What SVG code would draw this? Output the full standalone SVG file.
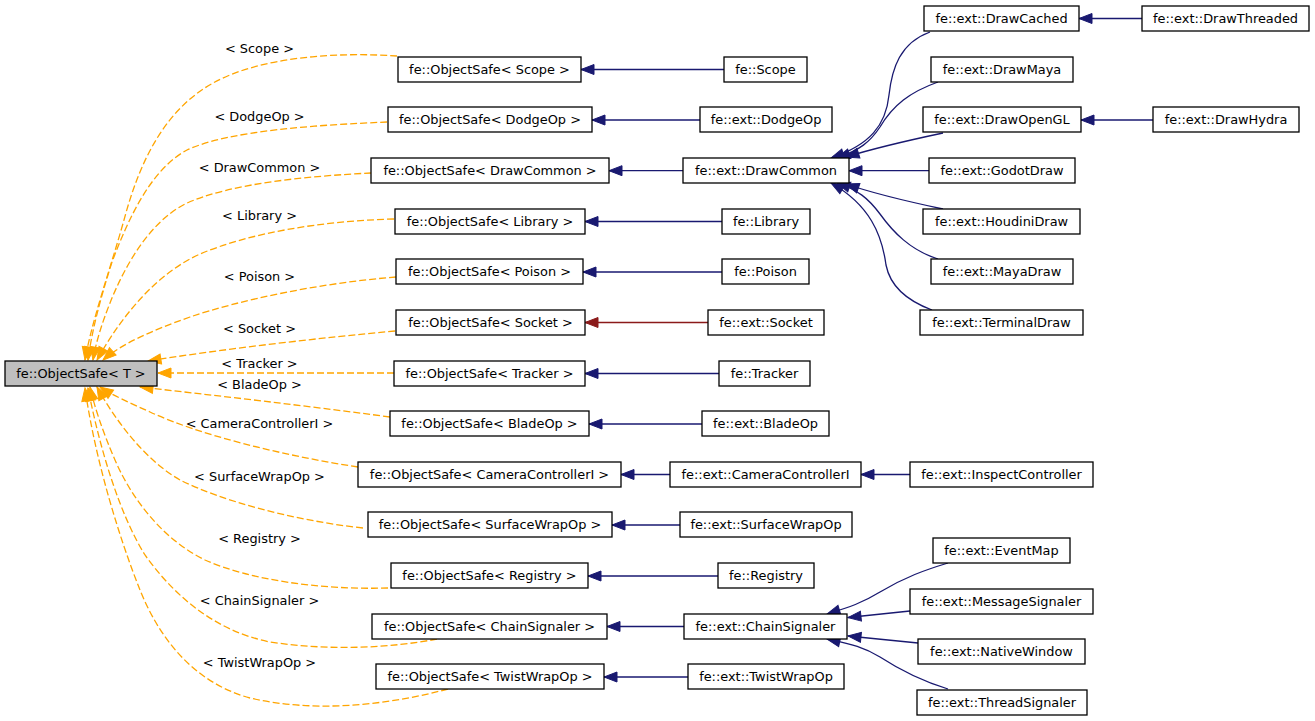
<svg xmlns="http://www.w3.org/2000/svg" width="1315" height="721" viewBox="0 0 1315 721">
<style>
text{font-family:"DejaVu Sans","Liberation Sans",sans-serif;font-size:12.9px;text-anchor:middle;fill:#000}
.n rect{fill:#fff;stroke:#000;stroke-width:1.3}
#base rect{fill:#bfbfbf}
.o{fill:none;stroke:#ffa500;stroke-width:1.3;stroke-dasharray:7,3}
.b{fill:none;stroke:#191970;stroke-width:1.3}
.r{fill:none;stroke:#8b1a1a;stroke-width:1.3}
</style>
<defs>
<marker id="ao" markerUnits="userSpaceOnUse" viewBox="0 0 13 10" markerWidth="13" markerHeight="10" refX="13" refY="5" orient="auto" overflow="visible"><path d="M0,0L13,5L0,10Z" fill="#ffa500" stroke="#ffa500" stroke-width="1"/></marker>
<marker id="ab" markerUnits="userSpaceOnUse" viewBox="0 0 13 10" markerWidth="13" markerHeight="10" refX="13" refY="5" orient="auto" overflow="visible"><path d="M0,0L13,5L0,10Z" fill="#191970" stroke="#191970" stroke-width="1"/></marker>
<marker id="ar" markerUnits="userSpaceOnUse" viewBox="0 0 13 10" markerWidth="13" markerHeight="10" refX="13" refY="5" orient="auto" overflow="visible"><path d="M0,0L13,5L0,10Z" fill="#8b1a1a" stroke="#8b1a1a" stroke-width="1"/></marker>
</defs>
<rect width="1315" height="721" fill="#fff"/>
<g id="connectors">
<g marker-end="url(#ao)">
<path class="o" d="M397,56 C340,52 262,56 213,83 C165,110 140,160 124,220 C110,270 92,320 85,360"/>
<path class="o" d="M387,122 C320,125 230,130 187,150 C150,170 128,220 112,262 C100,300 92,330 88,360"/>
<path class="o" d="M371,173 C310,176 230,183 185,204 C150,222 125,265 110,303 C102,323 96,342 93,360"/>
<path class="o" d="M394,219 C320,221 250,233 200,254 C160,272 125,310 97,360"/>
<path class="o" d="M396,277 C320,283 240,300 190,317 C150,331 120,345 103,360"/>
<path class="o" d="M395,331 C320,338 230,348 148,361"/>
<path class="o" d="M394,373 L158,373"/>
<path class="o" d="M390,417 C300,405 220,396 140,387"/>
<path class="o" d="M358,467 C280,455 200,435 150,412 C130,403 112,395 100,387"/>
<path class="o" d="M363,528 C290,520 220,500 180,480 C145,460 115,420 97,387"/>
<path class="o" d="M388,588 C320,590 250,580 205,560 C160,538 130,495 115,460 C102,430 94,405 90,387"/>
<path class="o" d="M437,639 C390,648 330,651 270,642 C210,630 170,590 145,555 C120,515 100,450 88,388"/>
<path class="o" d="M448,689 C380,707 310,712 250,698 C195,683 160,640 140,590 C120,540 95,460 85,388"/>
</g>
<text x="259.5" y="52.5">&lt; Scope &gt;</text>
<text x="259.5" y="120.5">&lt; DodgeOp &gt;</text>
<text x="259.5" y="172">&lt; DrawCommon &gt;</text>
<text x="259.5" y="220">&lt; Library &gt;</text>
<text x="259.5" y="281">&lt; Poison &gt;</text>
<text x="259.5" y="333">&lt; Socket &gt;</text>
<text x="259.5" y="368">&lt; Tracker &gt;</text>
<text x="259.5" y="389">&lt; BladeOp &gt;</text>
<text x="259.5" y="428">&lt; CameraControllerI &gt;</text>
<text x="259.5" y="481">&lt; SurfaceWrapOp &gt;</text>
<text x="259.5" y="543">&lt; Registry &gt;</text>
<text x="259.5" y="605">&lt; ChainSignaler &gt;</text>
<text x="259.5" y="667">&lt; TwistWrapOp &gt;</text>
<g marker-end="url(#ab)">
<path class="b" d="M724,69.5 L581,69.5"/>
<path class="b" d="M700,120 L592,120"/>
<path class="b" d="M683,170.7 L609,170.7"/>
<path class="b" d="M722,221.5 L585,221.5"/>
<path class="b" d="M722,272 L583,272"/>
<path class="b" d="M719,373.5 L585,373.5"/>
<path class="b" d="M702,424 L589,424"/>
<path class="b" d="M670,474.5 L621,474.5"/>
<path class="b" d="M910,474.5 L861,474.5"/>
<path class="b" d="M680,525 L612,525"/>
<path class="b" d="M718,576 L588,576"/>
<path class="b" d="M684,626.5 L607,626.5"/>
<path class="b" d="M688,677 L604,677"/>
<path class="b" d="M1142,18.5 L1079,18.5"/>
<path class="b" d="M1153,120 L1081,120"/>
<path class="b" d="M930,32 C900,43 892,68 889,95 C886,125 870,145 831,158"/>
<path class="b" d="M938,82 C910,92 893,105 880,127 C870,142 860,150 837,158"/>
<path class="b" d="M943,133 C910,140 875,148 846,157"/>
<path class="b" d="M929,170.7 L849,170.7"/>
<path class="b" d="M943,209 C910,202 875,194 846,184"/>
<path class="b" d="M938,259 C910,250 893,232 880,214 C868,198 858,190 837,183"/>
<path class="b" d="M932,310 C905,300 890,285 886,265 C882,235 870,205 831,183"/>
<path class="b" d="M948,563 C925,570 905,577 880,592 C862,603 850,607 827,614"/>
<path class="b" d="M910,611 L848,617.5"/>
<path class="b" d="M918,643 L848,636"/>
<path class="b" d="M948,689 C925,682 900,670 880,657 C862,646 850,644 827,639"/>
</g>
<path class="r" marker-end="url(#ar)" d="M708,322.5 L585,322.5"/>
</g>
<g id="base" class="n"><rect x="5" y="361" width="152" height="25"/><text x="81" y="377.5">fe::ObjectSafe&lt; T &gt;</text></g>
<g id="os_scope" class="n"><rect x="398" y="57" width="183" height="25"/><text x="489.5" y="73.5">fe::ObjectSafe&lt; Scope &gt;</text></g>
<g id="os_dodgeop" class="n"><rect x="388" y="107" width="204" height="25"/><text x="490" y="123.5">fe::ObjectSafe&lt; DodgeOp &gt;</text></g>
<g id="os_drawcommon" class="n"><rect x="371" y="158" width="238" height="25"/><text x="490" y="174.5">fe::ObjectSafe&lt; DrawCommon &gt;</text></g>
<g id="os_library" class="n"><rect x="395" y="209" width="190" height="25"/><text x="490" y="225.5">fe::ObjectSafe&lt; Library &gt;</text></g>
<g id="os_poison" class="n"><rect x="396" y="259" width="187" height="25"/><text x="489.5" y="275.5">fe::ObjectSafe&lt; Poison &gt;</text></g>
<g id="os_socket" class="n"><rect x="396" y="310" width="189" height="25"/><text x="490.5" y="326.5">fe::ObjectSafe&lt; Socket &gt;</text></g>
<g id="os_tracker" class="n"><rect x="394" y="361" width="191" height="25"/><text x="489.5" y="377.5">fe::ObjectSafe&lt; Tracker &gt;</text></g>
<g id="os_bladeop" class="n"><rect x="390" y="411" width="199" height="25"/><text x="489.5" y="427.5">fe::ObjectSafe&lt; BladeOp &gt;</text></g>
<g id="os_camctrl" class="n"><rect x="358" y="462" width="263" height="25"/><text x="489.5" y="478.5">fe::ObjectSafe&lt; CameraControllerI &gt;</text></g>
<g id="os_surfwrap" class="n"><rect x="368" y="512" width="244" height="25"/><text x="490" y="528.5">fe::ObjectSafe&lt; SurfaceWrapOp &gt;</text></g>
<g id="os_registry" class="n"><rect x="391" y="563" width="197" height="25"/><text x="489.5" y="579.5">fe::ObjectSafe&lt; Registry &gt;</text></g>
<g id="os_chainsig" class="n"><rect x="372" y="614" width="235" height="25"/><text x="489.5" y="630.5">fe::ObjectSafe&lt; ChainSignaler &gt;</text></g>
<g id="os_twistwrap" class="n"><rect x="376" y="664" width="228" height="25"/><text x="490" y="680.5">fe::ObjectSafe&lt; TwistWrapOp &gt;</text></g>
<g id="scope" class="n"><rect x="724" y="57" width="83" height="25"/><text x="765.5" y="73.5">fe::Scope</text></g>
<g id="dodgeop" class="n"><rect x="700" y="107" width="132" height="25"/><text x="766" y="123.5">fe::ext::DodgeOp</text></g>
<g id="drawcommon" class="n"><rect x="683" y="158" width="166" height="25"/><text x="766" y="174.5">fe::ext::DrawCommon</text></g>
<g id="library" class="n"><rect x="722" y="209" width="88" height="25"/><text x="766" y="225.5">fe::Library</text></g>
<g id="poison" class="n"><rect x="722" y="259" width="87" height="25"/><text x="765.5" y="275.5">fe::Poison</text></g>
<g id="socket" class="n"><rect x="708" y="310" width="116" height="25"/><text x="766" y="326.5">fe::ext::Socket</text></g>
<g id="tracker" class="n"><rect x="719" y="361" width="91" height="25"/><text x="764.5" y="377.5">fe::Tracker</text></g>
<g id="bladeop" class="n"><rect x="702" y="411" width="127" height="25"/><text x="765.5" y="427.5">fe::ext::BladeOp</text></g>
<g id="camctrl" class="n"><rect x="670" y="462" width="191" height="25"/><text x="765.5" y="478.5">fe::ext::CameraControllerI</text></g>
<g id="surfwrap" class="n"><rect x="680" y="512" width="172" height="25"/><text x="766" y="528.5">fe::ext::SurfaceWrapOp</text></g>
<g id="registry" class="n"><rect x="718" y="563" width="96" height="25"/><text x="766" y="579.5">fe::Registry</text></g>
<g id="chainsig" class="n"><rect x="684" y="614" width="163" height="25"/><text x="765.5" y="630.5">fe::ext::ChainSignaler</text></g>
<g id="twistwrap" class="n"><rect x="688" y="664" width="156" height="25"/><text x="766" y="680.5">fe::ext::TwistWrapOp</text></g>
<g id="drawcached" class="n"><rect x="924" y="6" width="155" height="25"/><text x="1001.5" y="22.5">fe::ext::DrawCached</text></g>
<g id="drawmaya" class="n"><rect x="931" y="57" width="142" height="25"/><text x="1002" y="73.5">fe::ext::DrawMaya</text></g>
<g id="drawopengl" class="n"><rect x="923" y="107" width="158" height="25"/><text x="1002" y="123.5">fe::ext::DrawOpenGL</text></g>
<g id="godotdraw" class="n"><rect x="929" y="158" width="146" height="25"/><text x="1002" y="174.5">fe::ext::GodotDraw</text></g>
<g id="houdinidraw" class="n"><rect x="923" y="209" width="157" height="25"/><text x="1001.5" y="225.5">fe::ext::HoudiniDraw</text></g>
<g id="mayadraw" class="n"><rect x="931" y="259" width="142" height="25"/><text x="1002" y="275.5">fe::ext::MayaDraw</text></g>
<g id="terminaldraw" class="n"><rect x="920" y="310" width="163" height="25"/><text x="1001.5" y="326.5">fe::ext::TerminalDraw</text></g>
<g id="inspectctrl" class="n"><rect x="910" y="462" width="183" height="25"/><text x="1001.5" y="478.5">fe::ext::InspectController</text></g>
<g id="eventmap" class="n"><rect x="933" y="538" width="137" height="25"/><text x="1001.5" y="554.5">fe::ext::EventMap</text></g>
<g id="msgsig" class="n"><rect x="910" y="589" width="183" height="25"/><text x="1001.5" y="605.5">fe::ext::MessageSignaler</text></g>
<g id="nativewin" class="n"><rect x="918" y="639" width="167" height="25"/><text x="1001.5" y="655.5">fe::ext::NativeWindow</text></g>
<g id="threadsig" class="n"><rect x="917" y="690" width="170" height="25"/><text x="1002" y="706.5">fe::ext::ThreadSignaler</text></g>
<g id="drawthreaded" class="n"><rect x="1142" y="6" width="167" height="25"/><text x="1225.5" y="22.5">fe::ext::DrawThreaded</text></g>
<g id="drawhydra" class="n"><rect x="1153" y="107" width="146" height="25"/><text x="1226" y="123.5">fe::ext::DrawHydra</text></g>
</svg>
